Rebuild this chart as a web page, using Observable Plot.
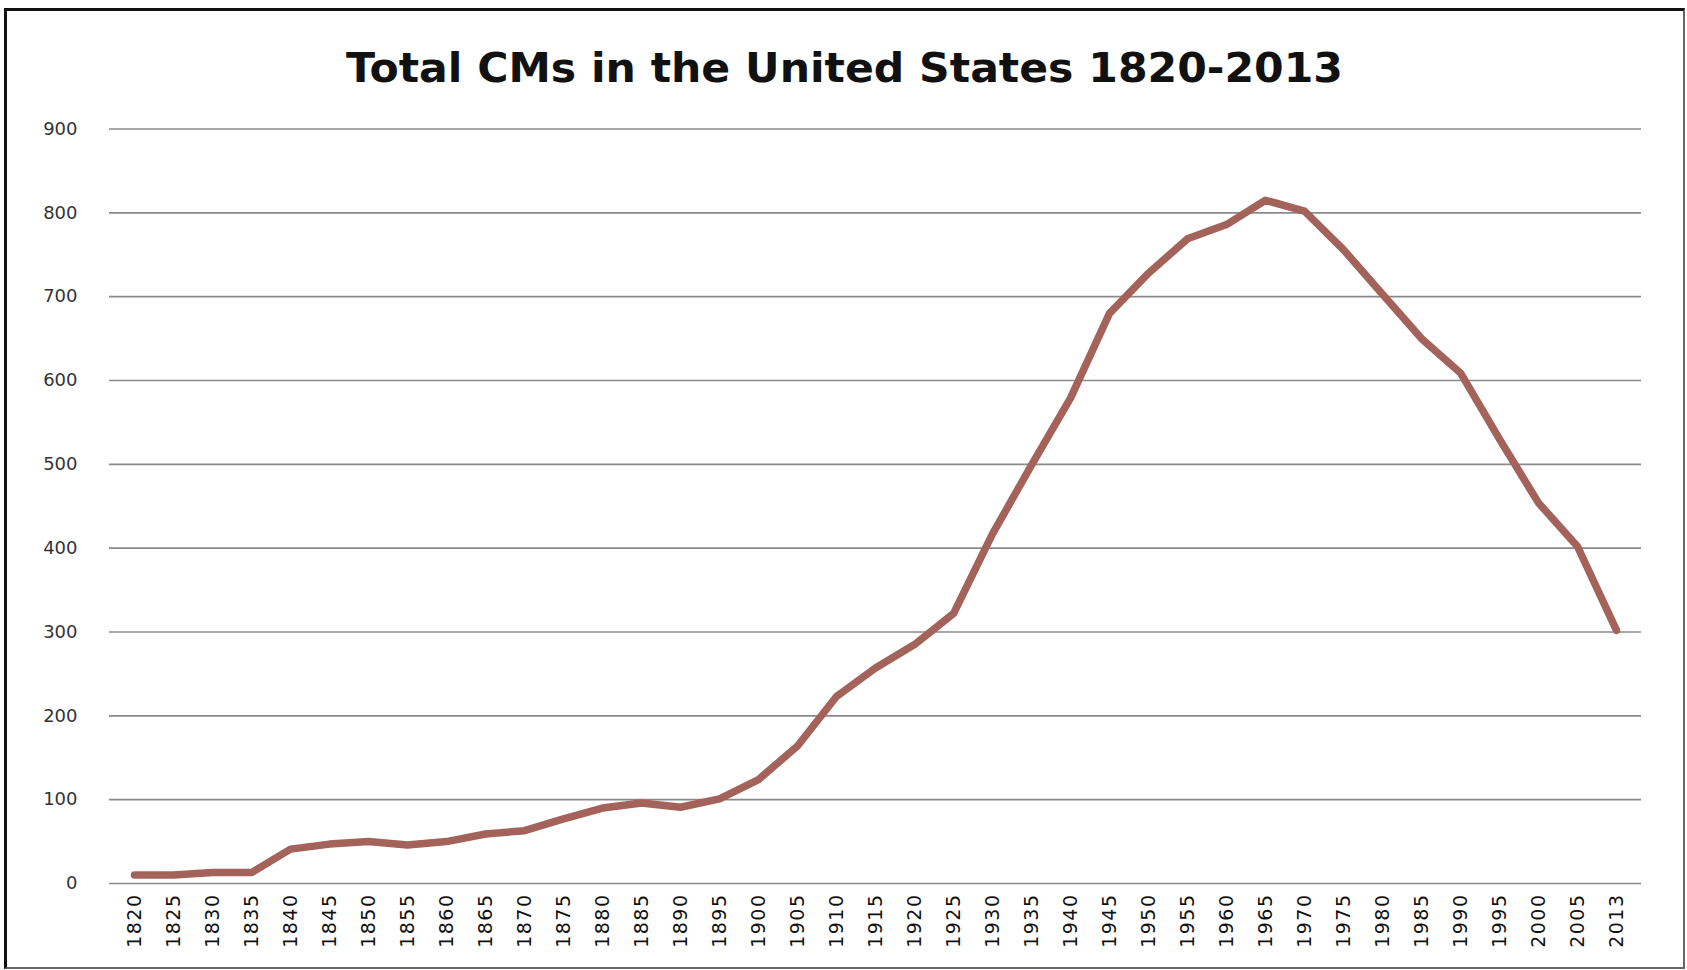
<!DOCTYPE html>
<html><head><meta charset="utf-8">
<script src="https://cdn.jsdelivr.net/npm/d3@7"></script>
<script src="https://cdn.jsdelivr.net/npm/@observablehq/plot@0.6"></script>
<style>
html,body{margin:0;padding:0;background:#fff;width:1687px;height:970px;overflow:hidden;}
#frame{position:absolute;left:4px;top:8px;width:1681px;height:961px;box-sizing:border-box;border-left:3px solid #111;border-top:3px solid #111;border-right:2px solid #666;border-bottom:2px solid #666;pointer-events:none;}
#title{position:absolute;left:0;top:40px;}
#chart{position:absolute;left:0;top:100px;}
g[aria-label="x-axis tick label"] text{letter-spacing:1.5px;font-size:19px;}
</style></head><body>
<div id="title"></div><div id="chart"></div><div id="frame"></div>
<script>
const titleText = "Total CMs in the United States 1820-2013";
const years = ["1820","1825","1830","1835","1840","1845","1850","1855","1860","1865","1870","1875","1880","1885","1890","1895","1900","1905","1910","1915","1920","1925","1930","1935","1940","1945","1950","1955","1960","1965","1970","1975","1980","1985","1990","1995","2000","2005","2013"];
const totals = [10,10,13,13,41,47,50,46,50,59,63,77,90,96,91,101,124,164,223,257,285,322,417,499,579,680,728,769,786,815,802,756,703,650,609,530,454,402,302];
const yTicks = [0,100,200,300,400,500,600,700,800,900];

const data = years.map((y, i) => ({year: y, total: totals[i]}));

// title
const ns = "http://www.w3.org/2000/svg";
const tsvg = document.createElementNS(ns, "svg");
tsvg.setAttribute("width", 1687); tsvg.setAttribute("height", 60);
const tt = document.createElementNS(ns, "text");
tt.setAttribute("x", 844.5); tt.setAttribute("y", 42);
tt.setAttribute("text-anchor", "middle");
tt.setAttribute("font-family", "DejaVu Sans");
tt.setAttribute("font-weight", "bold");
tt.setAttribute("font-size", 40);
tt.setAttribute("textLength", 997);
tt.setAttribute("lengthAdjust", "spacingAndGlyphs");
tt.setAttribute("fill", "#111");
tt.textContent = titleText;
tsvg.appendChild(tt);
document.getElementById("title").appendChild(tsvg);

const chart = Plot.plot({
  width: 1687,
  height: 870,
  marginTop: 28.5,
  marginBottom: 87,
  marginLeft: 109,
  marginRight: 46,
  style: {fontFamily: "DejaVu Sans", fontSize: "18px", background: "transparent", color: "#222"},
  x: {type: "point", domain: years, padding: 0.5, label: null},
  y: {domain: [0, 900], label: null},
  marks: [
    Plot.ruleY(yTicks, {stroke: "#8a8a8a", strokeWidth: 1.6}),
    Plot.axisY({ticks: yTicks, tickSize: 0, tickPadding: 32, label: null, fill: "#333"}),
    Plot.axisX({tickSize: 0, tickPadding: 10, tickRotate: -90, label: null, fill: "#111"}),
    Plot.lineY(data, {x: "year", y: "total", stroke: "#a3635b", strokeWidth: 7.5, strokeLinejoin: "round", strokeLinecap: "round"})
  ]
});
document.getElementById("chart").appendChild(chart);
</script>
</body></html>
